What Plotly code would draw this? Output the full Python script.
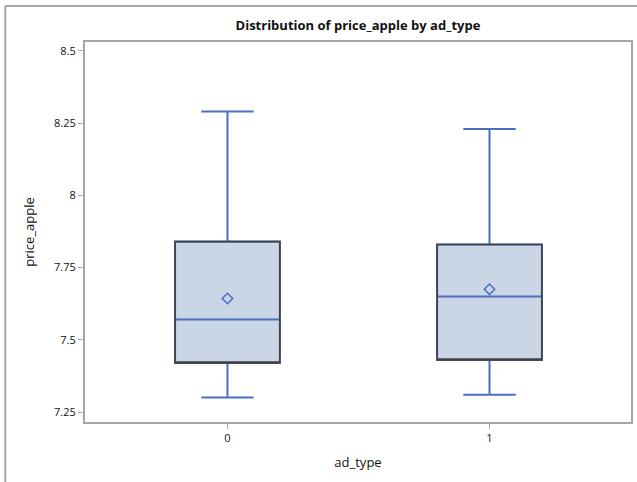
import plotly.graph_objects as go

categories = [0, 1]
lower_whisker = [7.30, 7.31]
q1_vals = [7.42, 7.43]
median_vals = [7.57, 7.65]
q3_vals = [7.84, 7.83]
upper_whisker = [8.29, 8.23]
mean_vals = [7.643, 7.675]
y_ticks = [7.25, 7.5, 7.75, 8.0, 8.25, 8.5]
y_tick_labels = ["7.25", "7.5", "7.75", "8", "8.25", "8.5"]

BLUE = "#4A6FC0"
FILL = "#CAD5E6"
GRAY = "#A6A6A6"
FONT = "Open Sans"

fig = go.Figure()

# whiskers, caps, median, fill
fig.add_trace(go.Box(
    x=categories, q1=q1_vals, median=median_vals, q3=q3_vals,
    lowerfence=lower_whisker, upperfence=upper_whisker,
    width=0.4, whiskerwidth=0.5,
    fillcolor=FILL, line=dict(color=BLUE, width=2),
    showlegend=False, hoverinfo="skip",
))
# dark box outline
fig.add_trace(go.Box(
    x=categories, q1=q1_vals, median=q1_vals, q3=q3_vals,
    lowerfence=q1_vals, upperfence=q3_vals,
    width=0.4, whiskerwidth=0,
    fillcolor="rgba(0,0,0,0)", line=dict(color="#404040", width=1.6),
    showlegend=False, hoverinfo="skip",
))
# mean markers
fig.add_trace(go.Scatter(
    x=categories, y=mean_vals, mode="markers",
    marker=dict(symbol="diamond-open", size=8, color=BLUE, line=dict(width=1.5, color=BLUE)),
    showlegend=False, hoverinfo="skip",
))

# outer frame (left and top)
fig.add_shape(type="line", xref="paper", yref="paper",
              x0=-0.146, y0=-0.2, x1=-0.146, y1=1.0947,
              line=dict(color=GRAY, width=2))
fig.add_shape(type="line", xref="paper", yref="paper",
              x0=-0.146, y0=1.0947, x1=1.02, y1=1.0947,
              line=dict(color=GRAY, width=2))

fig.update_layout(
    width=637, height=482,
    margin=dict(l=85, r=4, t=42, b=60),
    paper_bgcolor="white", plot_bgcolor="white",
    boxmode="overlay",
    font=dict(family=FONT, size=11, color="#111111"),
    title=dict(text="<b>Distribution of price_apple by ad_type</b>",
               x=0.5, xref="paper", xanchor="center",
               y=1 - 25 / 482, yref="container", yanchor="middle",
               font=dict(family=FONT, size=13, color="#111111")),
    xaxis=dict(
        range=[-0.5437, 1.54], tickvals=categories,
        ticktext=[str(c) for c in categories],
        showgrid=False, zeroline=False,
        showline=True, mirror=True, linecolor=GRAY, linewidth=2,
        ticks="outside", ticklen=5, tickcolor=GRAY, tickwidth=1,
        title=dict(text="ad_type", font=dict(size=13), standoff=14),
        tickfont=dict(size=11),
    ),
    yaxis=dict(
        range=[7.2155, 8.531], tickvals=y_ticks, ticktext=y_tick_labels,
        showgrid=False, zeroline=False,
        showline=True, mirror=True, linecolor=GRAY, linewidth=2,
        ticks="outside", ticklen=5, tickcolor=GRAY, tickwidth=1,
        title=dict(text="price_apple", font=dict(size=13), standoff=16),
        tickfont=dict(size=11),
    ),
)

fig.write_html("out.html")
